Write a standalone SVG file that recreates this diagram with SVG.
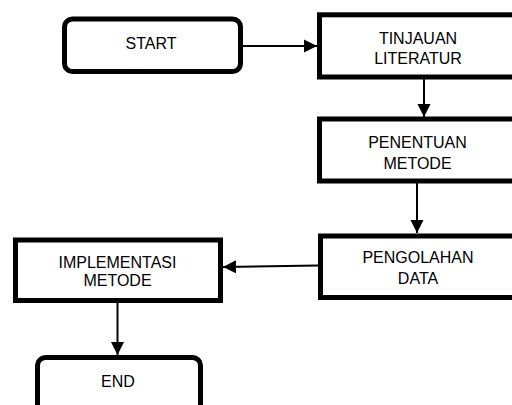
<svg xmlns="http://www.w3.org/2000/svg" width="512" height="405" viewBox="0 0 512 405">
<style>
.box{fill:#fff;stroke:#000;stroke-width:5}
.lbl{font-family:"Liberation Sans",Arial,sans-serif;font-size:16px;fill:#000;text-anchor:middle}
.con{stroke:#000;stroke-width:2;fill:none;marker-end:url(#arr)}
</style>
<defs>
<marker id="arr" markerUnits="userSpaceOnUse" markerWidth="14" markerHeight="14" viewBox="0 0 14 14" refX="13" refY="7" orient="auto">
<path d="M0,0.5 L13,7 L0,13.5 Z" fill="#000"/>
</marker>
</defs>
<rect width="512" height="405" fill="#fff"/>
<g id="start">
<rect class="box" x="64.5" y="19" width="176" height="52.5" rx="8"/>
<text class="lbl" x="151" y="48.5">START</text>
</g>
<g id="tinjauan">
<rect class="box" x="319.5" y="14.8" width="200" height="62.2"/>
<text class="lbl" x="418" y="44.3">TINJAUAN</text>
<text class="lbl" x="418" y="64">LITERATUR</text>
</g>
<g id="penentuan">
<rect class="box" x="319.5" y="119" width="200" height="62"/>
<text class="lbl" x="417.5" y="147.7">PENENTUAN</text>
<text class="lbl" x="417.5" y="169.3">METODE</text>
</g>
<g id="pengolahan">
<rect class="box" x="320.5" y="236" width="200" height="61.5"/>
<text class="lbl" x="418" y="263.3">PENGOLAHAN</text>
<text class="lbl" x="418" y="283.5">DATA</text>
</g>
<g id="implementasi">
<rect class="box" x="15.5" y="240" width="205" height="60.5"/>
<text class="lbl" x="117.5" y="268">IMPLEMENTASI</text>
<text class="lbl" x="117.5" y="285.7">METODE</text>
</g>
<g id="end">
<rect class="box" x="37.5" y="357.5" width="163" height="70" rx="8"/>
<text class="lbl" x="118" y="387">END</text>
</g>
<g id="connectors">
<line class="con" x1="243" y1="46" x2="317" y2="46"/>
<line class="con" x1="424" y1="79" x2="424" y2="117"/>
<line class="con" x1="417" y1="183" x2="417" y2="233"/>
<line class="con" x1="318" y1="265.5" x2="223" y2="267"/>
<line class="con" x1="117.5" y1="303" x2="117.5" y2="355"/>
</g>
</svg>
